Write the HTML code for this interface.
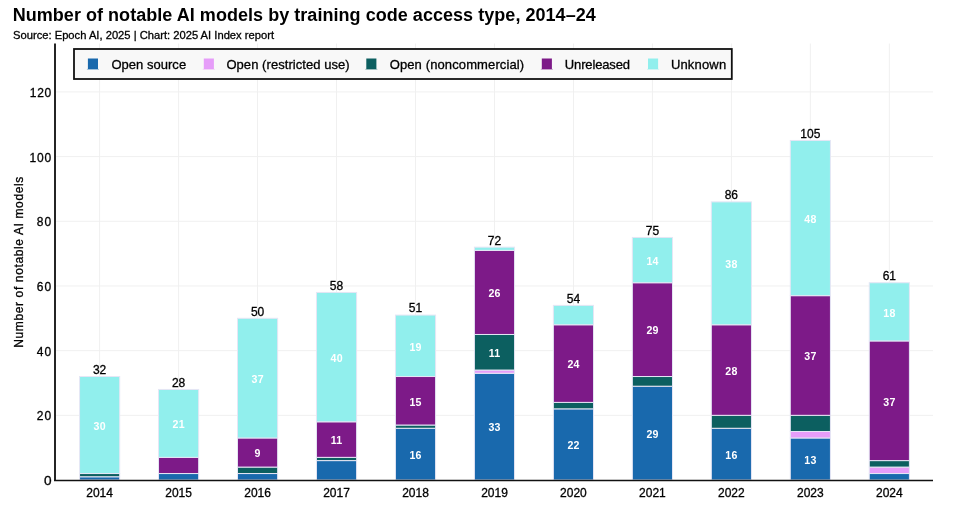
<!DOCTYPE html><html><head><meta charset="utf-8"><style>html,body{margin:0;padding:0;background:#fff;width:953px;height:505px;overflow:hidden}svg{display:block;will-change:transform}text{font-family:"Liberation Sans",sans-serif}.r{stroke:#000;stroke-width:0.3px}</style></head><body>
<svg width="953" height="505" viewBox="0 0 953 505">
<text x="12.7" y="20.8" font-size="18" font-weight="700" letter-spacing="0.04" fill="#000">Number of notable AI models by training code access type, 2014–24</text>
<text x="13" y="38.7" class="r" font-size="11.2" fill="#000">Source: Epoch AI, 2025 | Chart: 2025 AI Index report</text>
<g stroke="#f0f0f0" stroke-width="1"><line x1="56.0" x2="933.0" y1="415.32" y2="415.32"/><line x1="56.0" x2="933.0" y1="350.64" y2="350.64"/><line x1="56.0" x2="933.0" y1="285.96" y2="285.96"/><line x1="56.0" x2="933.0" y1="221.28" y2="221.28"/><line x1="56.0" x2="933.0" y1="156.60" y2="156.60"/><line x1="56.0" x2="933.0" y1="91.92" y2="91.92"/><line x1="99.62" x2="99.62" y1="43.5" y2="480.00"/><line x1="178.59" x2="178.59" y1="43.5" y2="480.00"/><line x1="257.56" x2="257.56" y1="43.5" y2="480.00"/><line x1="336.53" x2="336.53" y1="43.5" y2="480.00"/><line x1="415.50" x2="415.50" y1="43.5" y2="480.00"/><line x1="494.48" x2="494.48" y1="43.5" y2="480.00"/><line x1="573.45" x2="573.45" y1="43.5" y2="480.00"/><line x1="652.41" x2="652.41" y1="43.5" y2="480.00"/><line x1="731.38" x2="731.38" y1="43.5" y2="480.00"/><line x1="810.36" x2="810.36" y1="43.5" y2="480.00"/><line x1="889.33" x2="889.33" y1="43.5" y2="480.00"/></g>
<rect x="79.55" y="476.77" width="40.15" height="3.23" fill="#1969ad" stroke="#e6e6f5" stroke-width="1"/>
<rect x="79.55" y="473.53" width="40.15" height="3.23" fill="#0c5f60" stroke="#e6e6f5" stroke-width="1"/>
<rect x="79.55" y="376.51" width="40.15" height="97.02" fill="#91efed" stroke="#e6e6f5" stroke-width="1"/>
<rect x="158.52" y="473.53" width="40.15" height="6.47" fill="#1969ad" stroke="#e6e6f5" stroke-width="1"/>
<rect x="158.52" y="457.36" width="40.15" height="16.17" fill="#7d1a88" stroke="#e6e6f5" stroke-width="1"/>
<rect x="158.52" y="389.45" width="40.15" height="67.91" fill="#91efed" stroke="#e6e6f5" stroke-width="1"/>
<rect x="237.49" y="473.53" width="40.15" height="6.47" fill="#1969ad" stroke="#e6e6f5" stroke-width="1"/>
<rect x="237.49" y="467.06" width="40.15" height="6.47" fill="#0c5f60" stroke="#e6e6f5" stroke-width="1"/>
<rect x="237.49" y="437.96" width="40.15" height="29.11" fill="#7d1a88" stroke="#e6e6f5" stroke-width="1"/>
<rect x="237.49" y="318.30" width="40.15" height="119.66" fill="#91efed" stroke="#e6e6f5" stroke-width="1"/>
<rect x="316.46" y="460.60" width="40.15" height="19.40" fill="#1969ad" stroke="#e6e6f5" stroke-width="1"/>
<rect x="316.46" y="457.36" width="40.15" height="3.23" fill="#0c5f60" stroke="#e6e6f5" stroke-width="1"/>
<rect x="316.46" y="421.79" width="40.15" height="35.57" fill="#7d1a88" stroke="#e6e6f5" stroke-width="1"/>
<rect x="316.46" y="292.43" width="40.15" height="129.36" fill="#91efed" stroke="#e6e6f5" stroke-width="1"/>
<rect x="395.43" y="428.26" width="40.15" height="51.74" fill="#1969ad" stroke="#e6e6f5" stroke-width="1"/>
<rect x="395.43" y="425.02" width="40.15" height="3.23" fill="#0c5f60" stroke="#e6e6f5" stroke-width="1"/>
<rect x="395.43" y="376.51" width="40.15" height="48.51" fill="#7d1a88" stroke="#e6e6f5" stroke-width="1"/>
<rect x="395.43" y="315.07" width="40.15" height="61.45" fill="#91efed" stroke="#e6e6f5" stroke-width="1"/>
<rect x="474.40" y="373.28" width="40.15" height="106.72" fill="#1969ad" stroke="#e6e6f5" stroke-width="1"/>
<rect x="474.40" y="370.04" width="40.15" height="3.23" fill="#e69df9" stroke="#e6e6f5" stroke-width="1"/>
<rect x="474.40" y="334.47" width="40.15" height="35.57" fill="#0c5f60" stroke="#e6e6f5" stroke-width="1"/>
<rect x="474.40" y="250.39" width="40.15" height="84.08" fill="#7d1a88" stroke="#e6e6f5" stroke-width="1"/>
<rect x="474.40" y="247.15" width="40.15" height="3.23" fill="#91efed" stroke="#e6e6f5" stroke-width="1"/>
<rect x="553.37" y="408.85" width="40.15" height="71.15" fill="#1969ad" stroke="#e6e6f5" stroke-width="1"/>
<rect x="553.37" y="402.38" width="40.15" height="6.47" fill="#0c5f60" stroke="#e6e6f5" stroke-width="1"/>
<rect x="553.37" y="324.77" width="40.15" height="77.62" fill="#7d1a88" stroke="#e6e6f5" stroke-width="1"/>
<rect x="553.37" y="305.36" width="40.15" height="19.40" fill="#91efed" stroke="#e6e6f5" stroke-width="1"/>
<rect x="632.34" y="386.21" width="40.15" height="93.79" fill="#1969ad" stroke="#e6e6f5" stroke-width="1"/>
<rect x="632.34" y="376.51" width="40.15" height="9.70" fill="#0c5f60" stroke="#e6e6f5" stroke-width="1"/>
<rect x="632.34" y="282.73" width="40.15" height="93.79" fill="#7d1a88" stroke="#e6e6f5" stroke-width="1"/>
<rect x="632.34" y="237.45" width="40.15" height="45.28" fill="#91efed" stroke="#e6e6f5" stroke-width="1"/>
<rect x="711.31" y="428.26" width="40.15" height="51.74" fill="#1969ad" stroke="#e6e6f5" stroke-width="1"/>
<rect x="711.31" y="415.32" width="40.15" height="12.94" fill="#0c5f60" stroke="#e6e6f5" stroke-width="1"/>
<rect x="711.31" y="324.77" width="40.15" height="90.55" fill="#7d1a88" stroke="#e6e6f5" stroke-width="1"/>
<rect x="711.31" y="201.88" width="40.15" height="122.89" fill="#91efed" stroke="#e6e6f5" stroke-width="1"/>
<rect x="790.28" y="437.96" width="40.15" height="42.04" fill="#1969ad" stroke="#e6e6f5" stroke-width="1"/>
<rect x="790.28" y="431.49" width="40.15" height="6.47" fill="#e69df9" stroke="#e6e6f5" stroke-width="1"/>
<rect x="790.28" y="415.32" width="40.15" height="16.17" fill="#0c5f60" stroke="#e6e6f5" stroke-width="1"/>
<rect x="790.28" y="295.66" width="40.15" height="119.66" fill="#7d1a88" stroke="#e6e6f5" stroke-width="1"/>
<rect x="790.28" y="140.43" width="40.15" height="155.23" fill="#91efed" stroke="#e6e6f5" stroke-width="1"/>
<rect x="869.25" y="473.53" width="40.15" height="6.47" fill="#1969ad" stroke="#e6e6f5" stroke-width="1"/>
<rect x="869.25" y="467.06" width="40.15" height="6.47" fill="#e69df9" stroke="#e6e6f5" stroke-width="1"/>
<rect x="869.25" y="460.60" width="40.15" height="6.47" fill="#0c5f60" stroke="#e6e6f5" stroke-width="1"/>
<rect x="869.25" y="340.94" width="40.15" height="119.66" fill="#7d1a88" stroke="#e6e6f5" stroke-width="1"/>
<rect x="869.25" y="282.73" width="40.15" height="58.21" fill="#91efed" stroke="#e6e6f5" stroke-width="1"/>
<text x="99.75" y="429.82" font-size="10.6" font-weight="700" letter-spacing="0.25" fill="#fff" text-anchor="middle">30</text>
<text x="99.62" y="373.91" class="r" font-size="12" fill="#000" text-anchor="middle">32</text>
<text x="178.71" y="428.20" font-size="10.6" font-weight="700" letter-spacing="0.25" fill="#fff" text-anchor="middle">21</text>
<text x="178.59" y="386.85" class="r" font-size="12" fill="#000" text-anchor="middle">28</text>
<text x="257.69" y="457.31" font-size="10.6" font-weight="700" letter-spacing="0.25" fill="#fff" text-anchor="middle">9</text>
<text x="257.69" y="382.93" font-size="10.6" font-weight="700" letter-spacing="0.25" fill="#fff" text-anchor="middle">37</text>
<text x="257.56" y="315.70" class="r" font-size="12" fill="#000" text-anchor="middle">50</text>
<text x="336.65" y="444.38" font-size="10.6" font-weight="700" letter-spacing="0.25" fill="#fff" text-anchor="middle">11</text>
<text x="336.65" y="361.91" font-size="10.6" font-weight="700" letter-spacing="0.25" fill="#fff" text-anchor="middle">40</text>
<text x="336.53" y="289.83" class="r" font-size="12" fill="#000" text-anchor="middle">58</text>
<text x="415.62" y="458.93" font-size="10.6" font-weight="700" letter-spacing="0.25" fill="#fff" text-anchor="middle">16</text>
<text x="415.62" y="405.57" font-size="10.6" font-weight="700" letter-spacing="0.25" fill="#fff" text-anchor="middle">15</text>
<text x="415.62" y="350.59" font-size="10.6" font-weight="700" letter-spacing="0.25" fill="#fff" text-anchor="middle">19</text>
<text x="415.50" y="312.47" class="r" font-size="12" fill="#000" text-anchor="middle">51</text>
<text x="494.60" y="431.44" font-size="10.6" font-weight="700" letter-spacing="0.25" fill="#fff" text-anchor="middle">33</text>
<text x="494.60" y="357.06" font-size="10.6" font-weight="700" letter-spacing="0.25" fill="#fff" text-anchor="middle">11</text>
<text x="494.60" y="297.23" font-size="10.6" font-weight="700" letter-spacing="0.25" fill="#fff" text-anchor="middle">26</text>
<text x="494.48" y="244.55" class="r" font-size="12" fill="#000" text-anchor="middle">72</text>
<text x="573.57" y="449.23" font-size="10.6" font-weight="700" letter-spacing="0.25" fill="#fff" text-anchor="middle">22</text>
<text x="573.57" y="368.38" font-size="10.6" font-weight="700" letter-spacing="0.25" fill="#fff" text-anchor="middle">24</text>
<text x="573.45" y="302.76" class="r" font-size="12" fill="#000" text-anchor="middle">54</text>
<text x="652.53" y="437.91" font-size="10.6" font-weight="700" letter-spacing="0.25" fill="#fff" text-anchor="middle">29</text>
<text x="652.53" y="334.42" font-size="10.6" font-weight="700" letter-spacing="0.25" fill="#fff" text-anchor="middle">29</text>
<text x="652.53" y="264.89" font-size="10.6" font-weight="700" letter-spacing="0.25" fill="#fff" text-anchor="middle">14</text>
<text x="652.41" y="234.85" class="r" font-size="12" fill="#000" text-anchor="middle">75</text>
<text x="731.50" y="458.93" font-size="10.6" font-weight="700" letter-spacing="0.25" fill="#fff" text-anchor="middle">16</text>
<text x="731.50" y="374.84" font-size="10.6" font-weight="700" letter-spacing="0.25" fill="#fff" text-anchor="middle">28</text>
<text x="731.50" y="268.12" font-size="10.6" font-weight="700" letter-spacing="0.25" fill="#fff" text-anchor="middle">38</text>
<text x="731.38" y="199.28" class="r" font-size="12" fill="#000" text-anchor="middle">86</text>
<text x="810.48" y="463.78" font-size="10.6" font-weight="700" letter-spacing="0.25" fill="#fff" text-anchor="middle">13</text>
<text x="810.48" y="360.29" font-size="10.6" font-weight="700" letter-spacing="0.25" fill="#fff" text-anchor="middle">37</text>
<text x="810.48" y="222.85" font-size="10.6" font-weight="700" letter-spacing="0.25" fill="#fff" text-anchor="middle">48</text>
<text x="810.36" y="137.83" class="r" font-size="12" fill="#000" text-anchor="middle">105</text>
<text x="889.45" y="405.57" font-size="10.6" font-weight="700" letter-spacing="0.25" fill="#fff" text-anchor="middle">37</text>
<text x="889.45" y="316.63" font-size="10.6" font-weight="700" letter-spacing="0.25" fill="#fff" text-anchor="middle">18</text>
<text x="889.33" y="280.13" class="r" font-size="12" fill="#000" text-anchor="middle">61</text>
<line x1="55" x2="55" y1="43.5" y2="481.00" stroke="#1a1a1a" stroke-width="1.9"/>
<line x1="54" x2="933.0" y1="480.45" y2="480.45" stroke="#111" stroke-width="1.6"/>
<text x="51.5" y="485.00" class="r" font-size="12" textLength="7.6" lengthAdjust="spacingAndGlyphs" fill="#000" text-anchor="end">0</text>
<text x="52.50" y="420.32" class="r" font-size="12" letter-spacing="1.2" fill="#000" text-anchor="end">20</text>
<text x="52.50" y="355.64" class="r" font-size="12" letter-spacing="1.2" fill="#000" text-anchor="end">40</text>
<text x="52.50" y="290.96" class="r" font-size="12" letter-spacing="1.2" fill="#000" text-anchor="end">60</text>
<text x="52.50" y="226.28" class="r" font-size="12" letter-spacing="1.2" fill="#000" text-anchor="end">80</text>
<text x="52.20" y="161.60" class="r" font-size="12" letter-spacing="0.9" fill="#000" text-anchor="end">100</text>
<text x="52.10" y="96.92" class="r" font-size="12" letter-spacing="0.8" fill="#000" text-anchor="end">120</text>
<text x="99.62" y="496.8" class="r" font-size="12" fill="#000" text-anchor="middle">2014</text>
<text x="178.59" y="496.8" class="r" font-size="12" fill="#000" text-anchor="middle">2015</text>
<text x="257.56" y="496.8" class="r" font-size="12" fill="#000" text-anchor="middle">2016</text>
<text x="336.53" y="496.8" class="r" font-size="12" fill="#000" text-anchor="middle">2017</text>
<text x="415.50" y="496.8" class="r" font-size="12" fill="#000" text-anchor="middle">2018</text>
<text x="494.48" y="496.8" class="r" font-size="12" fill="#000" text-anchor="middle">2019</text>
<text x="573.45" y="496.8" class="r" font-size="12" fill="#000" text-anchor="middle">2020</text>
<text x="652.41" y="496.8" class="r" font-size="12" fill="#000" text-anchor="middle">2021</text>
<text x="731.38" y="496.8" class="r" font-size="12" fill="#000" text-anchor="middle">2022</text>
<text x="810.36" y="496.8" class="r" font-size="12" fill="#000" text-anchor="middle">2023</text>
<text x="889.33" y="496.8" class="r" font-size="12" fill="#000" text-anchor="middle">2024</text>
<text transform="translate(23.1,347.8) rotate(-90)" font-size="12" class="r" letter-spacing="0.63" fill="#000">Number of notable AI models</text>
<rect x="74" y="49" width="657.8" height="30" fill="#f8f8f8" stroke="#111" stroke-width="1.8"/>
<rect x="87.90" y="58.5" width="10.1" height="10.6" fill="#1969ad"/>
<rect x="86.90" y="68.9" width="12.1" height="0.8" fill="#1969ad" opacity="0.45"/>
<text x="111.4" y="68.9" class="r" font-size="13" letter-spacing="0.03" fill="#000">Open source</text>
<rect x="203.80" y="58.5" width="10.1" height="10.6" fill="#e69df9"/>
<rect x="202.80" y="68.9" width="12.1" height="0.8" fill="#e69df9" opacity="0.45"/>
<text x="226.4" y="68.9" class="r" font-size="13" letter-spacing="0.06" fill="#000">Open (restricted use)</text>
<rect x="366.30" y="58.5" width="10.1" height="10.6" fill="#0c5f60"/>
<rect x="365.30" y="68.9" width="12.1" height="0.8" fill="#0c5f60" opacity="0.45"/>
<text x="389.7" y="68.9" class="r" font-size="13" letter-spacing="0.12" fill="#000">Open (noncommercial)</text>
<rect x="541.80" y="58.5" width="10.1" height="10.6" fill="#7d1a88"/>
<rect x="540.80" y="68.9" width="12.1" height="0.8" fill="#7d1a88" opacity="0.45"/>
<text x="564.85" y="68.9" class="r" font-size="13" letter-spacing="-0.15" fill="#000">Unreleased</text>
<rect x="648.00" y="58.5" width="10.1" height="10.6" fill="#91efed"/>
<rect x="647.00" y="68.9" width="12.1" height="0.8" fill="#91efed" opacity="0.45"/>
<text x="670.9" y="68.9" class="r" font-size="13" letter-spacing="0.18" fill="#000">Unknown</text>
</svg></body></html>
